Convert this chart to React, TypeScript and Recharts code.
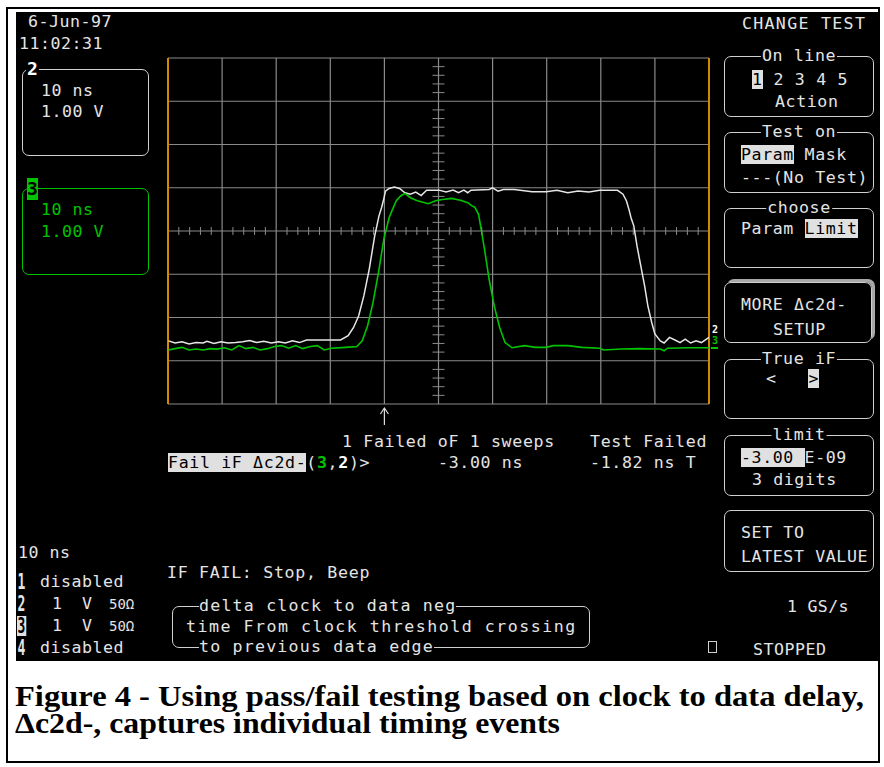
import React from "react";
import {
  ComposedChart,
  Line,
  Scatter,
  XAxis,
  YAxis,
  CartesianGrid,
  ReferenceLine,
  ReferenceDot,
} from "recharts";

// horizontal: time in ns (10 ns/div), vertical: volts (1 V/div)
const timeTicks = [-50, -40, -30, -20, -10, 0, 10, 20, 30, 40, 50];
const voltTicks = [-4, -3, -2, -1, 0, 1, 2, 3, 4];

// graticule minor marks on the centre cross
const minorTime = [
  -48, -46, -44, -42, -38, -36, -34, -32, -28, -26, -24, -22, -18, -16, -14, -12, -8, -6, -4, -2,
  2, 4, 6, 8, 12, 14, 16, 18, 22, 24, 26, 28, 32, 34, 36, 38, 42, 44, 46, 48,
];
const minorVolt = [
  -3.8, -3.6, -3.4, -3.2, -2.8, -2.6, -2.4, -2.2, -1.8, -1.6, -1.4, -1.2, -0.8, -0.6, -0.4, -0.2,
  0.2, 0.4, 0.6, 0.8, 1.2, 1.4, 1.6, 1.8, 2.2, 2.4, 2.6, 2.8, 3.2, 3.4, 3.6, 3.8,
];

// channel 2 (clock, white) [ns, V]
const ch2Trace = [
  [-49.9, -2.54], [-48.7, -2.59], [-47.4, -2.56], [-46.1, -2.61], [-44.8, -2.58], [-43.5, -2.59],
  [-42.8, -2.55], [-41.5, -2.6], [-40.2, -2.56], [-38.9, -2.59], [-37.5, -2.58], [-36.2, -2.56],
  [-34.9, -2.53], [-33.6, -2.58], [-32.3, -2.55], [-30.9, -2.59], [-29.6, -2.56], [-28.3, -2.59],
  [-27.0, -2.54], [-25.7, -2.58], [-24.4, -2.52], [-18.1, -2.52], [-16.7, -2.42], [-15.7, -2.23],
  [-14.75, -1.96], [-13.8, -1.5], [-12.8, -0.88], [-11.8, -0.12], [-11.0, 0.35], [-10.5, 0.55],
  [-10.1, 0.75], [-9.8, 0.92], [-9.15, 0.985], [-8.16, 1.015], [-7.2, 0.985], [-6.2, 0.885],
  [-5.2, 0.85], [-4.2, 0.9], [-3.2, 0.82], [-2.2, 0.945], [0.1, 0.945], [1.4, 0.9], [2.7, 0.945],
  [3.7, 0.885], [4.7, 0.945], [5.4, 0.885], [6.0, 0.945], [9.35, 0.96], [10.0, 1.0], [11.0, 0.92],
  [12.0, 0.96], [14.0, 0.96], [17.3, 0.91], [19.9, 0.91], [21.9, 0.94], [23.9, 0.885], [25.8, 0.925],
  [27.8, 0.9], [29.8, 0.94], [33.1, 0.94], [34.1, 0.85], [34.75, 0.695], [35.2, 0.5], [35.6, 0.3],
  [36.1, 0.12], [36.7, -0.35], [37.4, -0.81], [38.1, -1.27], [38.7, -1.73], [39.4, -2.11],
  [40.0, -2.38], [41.0, -2.54], [41.7, -2.59], [42.7, -2.46], [43.7, -2.52], [44.65, -2.58],
  [45.6, -2.5], [46.6, -2.59], [47.6, -2.54], [48.6, -2.58], [50.0, -2.46],
];

// channel 3 (data, green) [ns, V]
const ch3Trace = [
  [-49.9, -2.75], [-48.7, -2.72], [-47.4, -2.69], [-46.1, -2.75], [-44.8, -2.73], [-43.5, -2.75],
  [-42.2, -2.72], [-40.9, -2.73], [-39.6, -2.7], [-38.2, -2.75], [-36.9, -2.65], [-35.6, -2.72],
  [-34.3, -2.69], [-33.0, -2.75], [-31.6, -2.72], [-30.3, -2.67], [-29.0, -2.65], [-27.7, -2.71],
  [-26.4, -2.65], [-25.1, -2.72], [-23.7, -2.67], [-22.4, -2.65], [-21.1, -2.75], [-19.8, -2.71],
  [-17.2, -2.69], [-15.1, -2.67], [-14.1, -2.54], [-13.1, -2.19], [-12.1, -1.65], [-11.1, -0.96],
  [-10.1, -0.19], [-9.15, 0.3], [-8.5, 0.5], [-7.8, 0.7], [-7.0, 0.81], [-6.2, 0.87], [-5.2, 0.77],
  [-3.9, 0.7], [-1.9, 0.63], [-0.55, 0.7], [0.75, 0.73], [2.4, 0.755], [4.06, 0.71], [5.4, 0.655],
  [6.2, 0.58], [6.7, 0.55], [7.4, 0.385], [8.0, -0.04], [8.7, -0.58], [9.35, -1.11], [10.3, -1.73],
  [11.3, -2.23], [12.3, -2.58], [13.6, -2.7], [15.9, -2.65], [17.9, -2.69], [19.9, -2.69],
  [21.2, -2.65], [23.9, -2.65], [26.5, -2.69], [29.8, -2.71], [30.5, -2.75], [33.8, -2.73],
  [37.1, -2.72], [41.0, -2.73], [41.7, -2.77], [42.3, -2.71], [46.3, -2.7], [50.0, -2.7],
];

const triggerTime = -10; // arrow under the grid

const toPoints = (arr: number[][]) => arr.map(([t, v]) => ({ t, v }));

const mono = '"DejaVu Sans Mono", monospace';
const fg = "#e4e4e4";
const green = "#00c400";
const grid = "#8a8a8a";
const hlBg = "#e0e0e0";

function T({ x, y, c = fg, ls = 0.5, size = 16.6, bold = false, children }: any) {
  return (
    <div
      style={{
        position: "absolute",
        left: x,
        top: y - 11,
        height: 22,
        lineHeight: "22px",
        fontFamily: mono,
        fontSize: size,
        letterSpacing: ls,
        color: c,
        whiteSpace: "pre",
        fontWeight: bold ? "bold" : "normal",
      }}
    >
      {children}
    </div>
  );
}

const Hl = ({ children }: any) => (
  <span style={{ background: hlBg, color: "#000" }}>{children}</span>
);

function Box({ x, y, w, h, c = "#cfcfcf", title, raised }: any) {
  return (
    <div
      style={{
        position: "absolute",
        left: x,
        top: y,
        width: w,
        height: h,
        boxSizing: "border-box",
        border: `1.5px solid ${c}`,
        borderRadius: 7,
        boxShadow: raised ? "3px -3px 0 #a8a8a8" : "none",
      }}
    >
      {title && (
        <span
          style={{
            position: "absolute",
            top: -12,
            left: "50%",
            transform: "translateX(-50%)",
            background: "#000",
            color: fg,
            fontFamily: mono,
            fontSize: 16.6,
            letterSpacing: 0.6,
            lineHeight: "22px",
            whiteSpace: "pre",
            padding: "0 1px",
          }}
        >
          {title}
        </span>
      )}
    </div>
  );
}

const Big = ({ x, y, inv = false, children }: any) => (
  <div
    style={{
      position: "absolute",
      left: x,
      top: y - 10,
      height: 20,
      lineHeight: "20px",
      fontFamily: mono,
      fontWeight: "bold",
      fontSize: 21,
      color: inv ? "#000" : fg,
      background: inv ? hlBg : "transparent",
      transform: "scaleX(0.62)",
      transformOrigin: "left center",
      padding: "0 1px",
    }}
  >
    {children}
  </div>
);

const Mark = ({ y, c, children }: any) => (
  <div
    style={{
      position: "absolute",
      left: 711,
      top: y,
      width: 8,
      height: 9,
      fontFamily: mono,
      fontWeight: "bold",
      fontSize: 10,
      lineHeight: "9px",
      color: c,
      textAlign: "center",
      overflow: "hidden",
    }}
  >
    {children}
  </div>
);

export default function App() {
  const hTick = (p: any) => (
    <line x1={p.cx} x2={p.cx} y1={p.cy - 4} y2={p.cy + 4} stroke={grid} strokeWidth={1} />
  );
  const vTick = (p: any) => (
    <line x1={p.cx - 6} x2={p.cx + 6} y1={p.cy} y2={p.cy} stroke={grid} strokeWidth={1} />
  );
  const arrow = (p: any) => (
    <g>
      <line x1={p.cx} x2={p.cx} y1={p.cy + 4} y2={p.cy + 21} stroke="#dcdcdc" strokeWidth={1.2} />
      <path
        d={`M${p.cx - 4},${p.cy + 10} L${p.cx},${p.cy + 4} L${p.cx + 4},${p.cy + 10}`}
        fill="none"
        stroke="#dcdcdc"
        strokeWidth={1.2}
      />
    </g>
  );

  return (
    <div
      style={{
        position: "absolute",
        left: 0,
        top: 0,
        width: 884,
        height: 767,
        background: "#fff",
        overflow: "hidden",
      }}
    >
      <div
        style={{
          position: "absolute",
          left: 6,
          top: 7,
          width: 874,
          height: 756,
          border: "2px solid #000",
          boxSizing: "border-box",
        }}
      />
      <div
        style={{ position: "absolute", left: 16, top: 12, width: 862, height: 649, background: "#000" }}
      />

      <div style={{ position: "absolute", left: 0, top: 0 }}>
        <ComposedChart width={884} height={767} margin={{ top: 58, right: 175, bottom: 363, left: 168 }}>
          <CartesianGrid stroke={grid} strokeWidth={1.2} />
          <XAxis type="number" dataKey="t" domain={[-50, 50]} ticks={timeTicks} hide allowDataOverflow />
          <YAxis type="number" dataKey="v" domain={[-4, 4]} ticks={voltTicks} hide allowDataOverflow />
          <ReferenceLine x={-50} stroke="#d08a00" strokeWidth={2} />
          <ReferenceLine x={50} stroke="#d08a00" strokeWidth={2} />
          <Scatter
            data={minorTime.map((t) => ({ t, v: 0 }))}
            shape={hTick}
            isAnimationActive={false}
          />
          <Scatter
            data={minorVolt.map((v) => ({ t: 0, v }))}
            shape={vTick}
            isAnimationActive={false}
          />
          <Line
            data={toPoints(ch2Trace)}
            dataKey="v"
            type="linear"
            stroke="#e6e6e6"
            strokeWidth={1.5}
            dot={false}
            isAnimationActive={false}
          />
          <Line
            data={toPoints(ch3Trace)}
            dataKey="v"
            type="linear"
            stroke={green}
            strokeWidth={1.6}
            dot={false}
            isAnimationActive={false}
          />
          <ReferenceDot x={triggerTime} y={-4} r={0} shape={arrow} ifOverflow="visible" />
        </ComposedChart>
      </div>

      {/* top-left: date and channel boxes */}
      <T x={28} y={22}>6-Jun-97</T>
      <T x={19} y={44}>11:02:31</T>

      <Box x={22} y={69} w={127} h={87} />
      <div
        style={{
          position: "absolute",
          left: 26,
          top: 60,
          background: "#000",
          color: "#fff",
          fontFamily: mono,
          fontWeight: "bold",
          fontSize: 18,
          lineHeight: "18px",
          padding: "0 1px",
        }}
      >
        2
      </div>
      <T x={41} y={91}>10 ns</T>
      <T x={41} y={112}>1.00 V</T>

      <Box x={22} y={188} w={127} h={87} c={green} />
      <div
        style={{
          position: "absolute",
          left: 27,
          top: 178,
          width: 11,
          height: 22,
          background: green,
          color: "#000",
          fontFamily: mono,
          fontWeight: "bold",
          fontSize: 18,
          lineHeight: "22px",
          textAlign: "center",
        }}
      >
        3
      </div>
      <T x={41} y={210} c={green}>10 ns</T>
      <T x={41} y={232} c={green}>1.00 V</T>

      {/* trace labels on the right edge of the grid */}
      <Mark y={325} c="#fff">2</Mark>
      <Mark y={336} c={green}>3</Mark>
      <div style={{ position: "absolute", left: 711, top: 347, width: 7, height: 2, background: green }} />

      {/* measurement readout */}
      <T x={342} y={442} ls={0.65}>1 Failed oF 1 sweeps</T>
      <T x={590} y={442} ls={0.65}>Test Failed</T>
      <T x={168} y={463} ls={0.65}>
        <Hl>Fail iF Δc2d-</Hl>(<span style={{ color: green, fontWeight: "bold" }}>3</span>,
        <span style={{ fontWeight: "bold", color: "#fff" }}>2</span>)&gt;
      </T>
      <T x={438} y={463} ls={0.65}>-3.00 ns</T>
      <T x={590} y={463} ls={0.65}>-1.82 ns T</T>

      {/* right menu */}
      <T x={742} y={24} ls={1.3}>CHANGE TEST</T>

      <Box x={724} y={56} w={150} h={61} title="On line" />
      <T x={752} y={80} ls={0.7}>
        <Hl>1</Hl> 2 3 4 5
      </T>
      <T x={775} y={102} ls={0.6}>Action</T>

      <Box x={724} y={132} w={150} h={61} title="Test on" />
      <T x={741} y={155} ls={0.6}>
        <Hl>Param</Hl> Mask
      </T>
      <T x={741} y={178} ls={0.6}>---(No Test)</T>

      <Box x={724} y={208} w={150} h={60} title="choose" />
      <T x={741} y={229} ls={0.6}>
        Param <Hl>Limit</Hl>
      </T>

      <Box x={724} y={282} w={148} h={61} raised />
      <T x={741} y={305} ls={0.6}>MORE Δc2d-</T>
      <T x={773} y={330} ls={0.6}>SETUP</T>

      <Box x={724} y={359} w={150} h={60} title="True iF" />
      <T x={766} y={379} ls={0.6}>
        {"<   "}
        <Hl>&gt;</Hl>
      </T>

      <Box x={724} y={435} w={150} h={61} title="limit" />
      <T x={741} y={458} ls={0.6}>
        <Hl>-3.00 </Hl>E-09
      </T>
      <T x={752} y={480} ls={0.6}>3 digits</T>

      <Box x={724} y={510} w={150} h={62} />
      <T x={741} y={533} ls={0.6}>SET TO</T>
      <T x={741} y={557} ls={0.6}>LATEST VALUE</T>

      <T x={787} y={607} ls={0.3}>1 GS/s</T>
      <div
        style={{
          position: "absolute",
          left: 708,
          top: 641,
          width: 9,
          height: 12,
          border: "1.3px solid #cfcfcf",
          boxSizing: "border-box",
        }}
      />
      <T x={753} y={650}>STOPPED</T>

      {/* bottom-left channel status */}
      <T x={18} y={553}>10 ns</T>
      <Big x={17} y={582}>1</Big>
      <T x={40} y={582}>disabled</T>
      <Big x={17} y={604}>2</Big>
      <T x={52} y={604}>1</T>
      <T x={82} y={604}>V</T>
      <T x={109} y={604} size={14} ls={0}>50Ω</T>
      <Big x={17} y={626} inv>3</Big>
      <T x={52} y={626}>1</T>
      <T x={82} y={626}>V</T>
      <T x={109} y={626} size={14} ls={0}>50Ω</T>
      <Big x={17} y={648}>4</Big>
      <T x={40} y={648}>disabled</T>

      <T x={167} y={573} ls={0.7}>IF FAIL: Stop, Beep</T>

      <div
        style={{
          position: "absolute",
          left: 172,
          top: 606,
          width: 418,
          height: 42,
          boxSizing: "border-box",
          border: "1.5px solid #cfcfcf",
          borderRadius: 7,
        }}
      >
        <span
          style={{
            position: "absolute",
            left: 26,
            top: -12,
            background: "#000",
            color: fg,
            fontFamily: mono,
            fontSize: 16.6,
            letterSpacing: 1.2,
            lineHeight: "22px",
            whiteSpace: "pre",
          }}
        >
          delta clock to data neg
        </span>
        <span
          style={{
            position: "absolute",
            left: 26,
            top: 29,
            background: "#000",
            color: fg,
            fontFamily: mono,
            fontSize: 16.6,
            letterSpacing: 1.2,
            lineHeight: "22px",
            whiteSpace: "pre",
          }}
        >
          to previous data edge
        </span>
      </div>
      <T x={186} y={627} ls={1.5}>time From clock threshold crossing</T>

      {/* caption */}
      <svg width={884} height={767} style={{ position: "absolute", left: 0, top: 0, pointerEvents: "none" }}>
        <text
          x={15}
          y={706}
          fontFamily='"Liberation Serif", "Times New Roman", serif'
          fontWeight="bold"
          fontSize={30}
          textLength={849}
          lengthAdjust="spacingAndGlyphs"
          fill="#000"
        >
          Figure 4 - Using pass/fail testing based on clock to data delay,
        </text>
        <text
          x={15}
          y={733}
          fontFamily='"Liberation Serif", "Times New Roman", serif'
          fontWeight="bold"
          fontSize={30}
          textLength={545}
          lengthAdjust="spacingAndGlyphs"
          fill="#000"
        >
          Δc2d-, captures individual timing events
        </text>
      </svg>
    </div>
  );
}
